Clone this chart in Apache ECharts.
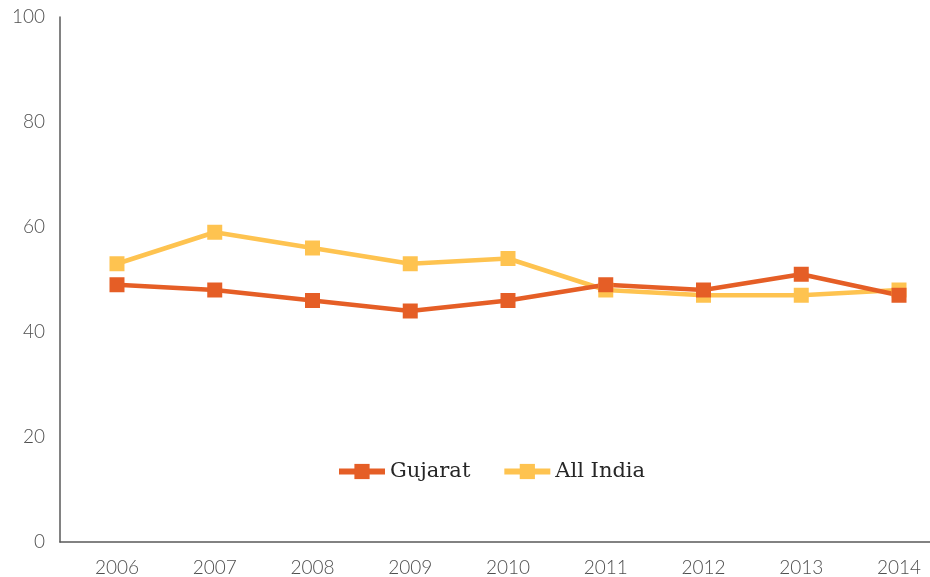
<!DOCTYPE html>
<html><head><meta charset="utf-8">
<script src="https://cdn.jsdelivr.net/npm/echarts@6/dist/echarts.min.js"></script>
<style>html,body{margin:0;padding:0;background:#fff}#c{width:930px;height:577px}</style>
</head><body><div id="c"></div>
<script>
const years = [2006, 2007, 2008, 2009, 2010, 2011, 2012, 2013, 2014];
const gujarat = [49, 48, 46, 44, 46, 49, 48, 51, 47];
const allIndia = [53, 59, 56, 53, 54, 48, 47, 47, 48];
const yTicks = [0, 20, 40, 60, 80, 100];

const chart = echarts.init(document.getElementById('c'));
const pair = (arr) => years.map((y, i) => [y, arr[i]]);
const lblColor = '#4f4f4f';
chart.setOption({
  animation: false,
  grid: { left: 60, right: 0, top: 17, bottom: 35, containLabel: false },
  xAxis: {
    type: 'value', min: 2005.417, max: 2014.317,
    axisLine: { show: true, lineStyle: { color: '#595959', width: 1.5 } },
    axisTick: { show: false },
    splitLine: { show: false },
    axisLabel: { customValues: years, color: lblColor, fontFamily: 'Lato', fontWeight: 300, fontSize: 19, margin: 16, formatter: v => String(Math.round(v)) }
  },
  yAxis: {
    type: 'value', min: 0, max: 100, interval: 20,
    axisLine: { show: true, lineStyle: { color: '#595959', width: 1.5 } },
    axisTick: { show: false },
    splitLine: { show: false },
    axisLabel: { customValues: yTicks, color: lblColor, fontFamily: 'Lato', fontWeight: 300, fontSize: 19, margin: 15 }
  },
  legend: {
    left: 331, top: 456, itemWidth: 46, itemHeight: 19, itemGap: 31,
    lineStyle: { width: 6 },
    textStyle: { fontFamily: 'DejaVu Serif', fontSize: 21, color: '#262626', fontWeight: 500 },
    data: ['Gujarat', 'All India']
  },
  series: [
    { name: 'All India', type: 'line', data: pair(allIndia), symbol: 'rect', symbolSize: 15,
      lineStyle: { width: 4.5, color: '#FEC350' }, itemStyle: { color: '#FEC350' } },
    { name: 'Gujarat', type: 'line', data: pair(gujarat), symbol: 'rect', symbolSize: 15,
      lineStyle: { width: 4.5, color: '#E55E26' }, itemStyle: { color: '#E55E26' } }
  ]
});
</script></body></html>
